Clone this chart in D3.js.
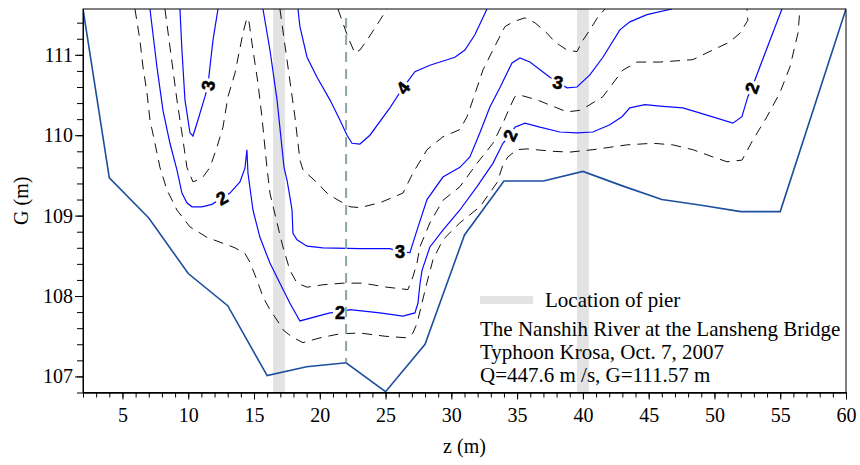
<!DOCTYPE html>
<html>
<head>
<meta charset="utf-8">
<script src="https://cdn.jsdelivr.net/npm/d3@7"></script>
<style>
  body { margin: 0; background: #fff; }
</style>
</head>
<body>
<div id="chart"></div>
<script>
// axis ranges and ticks
const zDomain = [2, 60];
const gDomain = [106.8, 111.57];
const zTicks = [5, 10, 15, 20, 25, 30, 35, 40, 45, 50, 55, 60];
const gTicks = [107, 108, 109, 110, 111];

// piers (z, m) and the sampling vertical
const piers = [16.9, 40.0];
const pierHalfWidth = 0.45;
const sectionZ = [22];

// river bed (z, G)
const bed = [[2, 111.57], [4, 109.47], [7, 108.97], [10, 108.28], [13, 107.88], [16, 107.01],
  [19, 107.12], [22, 107.17], [25, 106.81], [28, 107.40], [31, 108.76], [34, 109.43],
  [37, 109.43], [40, 109.55], [43, 109.37], [46, 109.20], [49, 109.13], [52, 109.05],
  [55, 109.05], [60, 111.57]];

// isovels (z, G)
const iso15 = [[5.95, 111.57], [6.33, 111.18], [6.56, 110.85], [6.86, 110.53], [7.09, 110.19],
  [7.47, 109.90], [7.85, 109.60], [8.38, 109.32], [9.14, 109.07], [10.13, 108.86], [11.42, 108.73],
  [12.41, 108.67], [13.55, 108.60], [14.31, 108.53], [14.69, 108.42], [15.22, 108.20], [15.68, 107.99],
  [16.21, 107.83], [16.75, 107.70], [17.20, 107.58], [17.89, 107.49], [18.72, 107.42], [20.01, 107.48],
  [21.53, 107.53], [23.05, 107.54], [24.95, 107.50], [26.62, 107.48], [27.08, 107.54], [27.39, 107.66],
  [27.69, 107.86], [28.15, 108.17], [28.60, 108.45], [29.36, 108.70], [30.65, 108.91], [32.17, 109.11],
  [33.47, 109.41], [33.92, 109.63], [34.30, 109.73], [34.99, 109.82], [35.75, 109.83], [37.72, 109.80],
  [39.01, 109.79], [40.76, 109.82], [42.05, 109.85], [43.35, 109.88], [45.32, 109.90], [46.84, 109.88],
  [48.36, 109.82], [49.88, 109.73], [50.95, 109.67], [52.09, 109.69], [52.92, 109.94], [53.99, 110.23],
  [54.98, 110.53], [55.74, 110.85], [56.35, 111.27], [56.50, 111.57]];

const iso20 = [[7.09, 111.57], [7.62, 110.85], [8.08, 110.31], [8.61, 109.90], [9.14, 109.57],
  [9.52, 109.28], [9.90, 109.16], [10.28, 109.11], [11.04, 109.11], [11.80, 109.14], [12.56, 109.22],
  [13.17, 109.28], [13.93, 109.42], [14.31, 109.59], [14.46, 109.82], [14.54, 109.53], [14.92, 109.07],
  [15.45, 108.73], [16.21, 108.41], [16.97, 108.16], [17.73, 107.91], [18.49, 107.69], [20.77, 107.79],
  [21.53, 107.80], [22.29, 107.83], [24.57, 107.79], [26.32, 107.75], [27.23, 107.79], [27.46, 107.91],
  [27.61, 108.14], [27.77, 108.32], [28.37, 108.61], [29.36, 108.82], [30.65, 109.07], [31.95, 109.36],
  [33.16, 109.65], [33.92, 109.90], [34.45, 110.00], [34.83, 110.10], [35.59, 110.15], [36.73, 110.10],
  [38.25, 110.04], [39.55, 110.03], [40.76, 110.04], [42.05, 110.13], [42.97, 110.23], [43.57, 110.34],
  [44.71, 110.38], [46.08, 110.36], [47.60, 110.34], [49.43, 110.25], [51.40, 110.15], [52.09, 110.23],
  [52.54, 110.48], [52.85, 110.59], [53.08, 110.69], [55.13, 111.57]];

const iso25 = [[8.23, 111.57], [9.14, 110.44], [9.60, 109.94], [9.90, 109.60], [10.36, 109.42],
  [10.66, 109.44], [11.12, 109.48], [11.65, 109.60], [12.18, 109.85], [12.64, 110.10], [13.02, 110.48],
  [13.55, 110.77], [14.16, 111.27], [14.46, 111.46], [14.62, 111.41], [14.92, 111.06], [15.30, 110.65],
  [15.60, 110.23], [15.98, 109.60], [16.21, 109.28], [16.75, 108.91], [17.20, 108.61], [17.73, 108.32],
  [18.27, 108.16], [19.03, 108.11], [20.24, 108.14], [21.76, 108.16], [23.28, 108.16], [25.11, 108.11],
  [26.70, 108.08], [27.08, 108.24], [27.39, 108.41], [27.61, 108.61], [28.37, 108.91], [29.36, 109.19],
  [30.65, 109.36], [31.95, 109.65], [33.16, 109.90], [33.92, 110.15], [34.45, 110.35], [34.83, 110.48],
  [35.21, 110.50], [36.51, 110.44], [38.03, 110.34], [38.79, 110.29], [39.77, 110.31], [40.53, 110.38],
  [41.52, 110.48], [42.21, 110.63], [43.04, 110.81], [44.11, 110.91], [45.85, 110.91], [48.36, 110.94],
  [49.88, 111.06], [51.17, 111.16], [51.94, 111.27], [52.54, 111.43], [52.47, 111.57]];

const iso30a = [[9.37, 111.57], [9.52, 111.06], [9.75, 110.44], [10.13, 110.03], [10.36, 109.99],
  [10.74, 110.19], [11.27, 110.48], [11.50, 110.62], [11.65, 110.85], [11.88, 111.18], [12.26, 111.57]];

const iso30b = [[15.68, 111.57], [16.21, 111.06], [16.75, 110.44], [17.28, 109.60], [17.51, 109.44],
  [17.73, 109.23], [17.89, 109.07], [17.96, 108.78], [18.27, 108.70], [19.03, 108.62], [20.24, 108.60],
  [23.05, 108.59], [25.33, 108.59], [26.09, 108.55], [26.85, 108.54], [27.39, 108.82], [28.15, 109.20],
  [29.36, 109.48], [30.65, 109.60], [31.41, 109.73], [32.17, 110.03], [32.93, 110.35], [33.69, 110.59],
  [34.61, 110.90], [35.21, 110.96], [35.97, 110.91], [37.49, 110.72], [38.10, 110.66], [38.79, 110.59],
  [39.55, 110.60], [40.53, 110.75], [41.52, 110.97], [42.81, 111.31], [43.57, 111.41], [44.87, 111.50],
  [46.77, 111.57]];

const iso35 = [[16.97, 111.57], [17.58, 110.85], [18.11, 110.23], [18.49, 109.69], [18.72, 109.57],
  [19.79, 109.41], [20.55, 109.28], [21.31, 109.20], [22.29, 109.11], [23.05, 109.10], [24.57, 109.16],
  [26.32, 109.28], [27.08, 109.53], [28.15, 109.82], [29.36, 109.98], [30.65, 110.07], [31.19, 110.23],
  [31.64, 110.44], [32.40, 110.81], [33.16, 111.06], [34.07, 111.35], [34.68, 111.41], [35.59, 111.46],
  [36.35, 111.40], [37.27, 111.27], [37.87, 111.16], [38.79, 111.06], [39.55, 111.04], [40.00, 111.18],
  [40.53, 111.31], [41.14, 111.47], [41.68, 111.57]];

const iso40 = [[18.34, 111.57], [18.49, 111.35], [19.03, 110.97], [19.79, 110.72], [20.77, 110.44],
  [21.53, 110.19], [22.07, 110.00], [22.45, 109.90], [23.05, 109.89], [23.81, 110.00], [25.33, 110.34],
  [26.32, 110.59], [27.23, 110.79], [28.37, 110.87], [30.27, 110.97], [31.03, 111.06], [31.79, 111.25],
  [32.71, 111.57]];

const iso45 = [[21.38, 111.57], [22.14, 111.22], [22.67, 111.02], [23.05, 111.06], [23.58, 111.18],
  [24.57, 111.43], [25.11, 111.57]];

const solidLines = [iso20, iso30a, iso30b, iso40];
const dashedLines = [iso15, iso25, iso35, iso45];

// contour labels: text, z, G, angle
const isoLabels = [["3", 11.50, 110.62, -80], ["2", 12.56, 109.22, -30], ["2", 21.53, 107.80, 0],
  ["3", 26.09, 108.55, 0], ["4", 26.32, 110.59, -52], ["2", 34.45, 110.00, -65],
  ["3", 38.10, 110.66, 12], ["2", 52.85, 110.59, -70]];

const legendLabel = "Location of pier";
const notes = ["The Nanshih River at the Lansheng Bridge", "Typhoon Krosa, Oct. 7, 2007",
  "Q=447.6 m /s, G=111.57 m"];

const width = 860, height = 465;
const margin = { top: 9, right: 14, bottom: 72.5, left: 83 };

const svg = d3.select("#chart").append("svg")
  .attr("width", width)
  .attr("height", height);

const x = d3.scaleLinear().domain(zDomain).range([margin.left, width - margin.right]);
const y = d3.scaleLinear().domain(gDomain).range([height - margin.bottom, margin.top]);

svg.append("defs").append("clipPath").attr("id", "plot-clip")
  .append("rect")
  .attr("x", x(zDomain[0])).attr("y", y(gDomain[1]))
  .attr("width", x(zDomain[1]) - x(zDomain[0]))
  .attr("height", y(gDomain[0]) - y(gDomain[1]));

const plot = svg.append("g").attr("clip-path", "url(#plot-clip)");

// pier bands
plot.selectAll("rect.pier").data(piers).enter().append("rect")
  .attr("class", "pier")
  .attr("x", d => x(d - pierHalfWidth))
  .attr("width", d => x(d + pierHalfWidth) - x(d - pierHalfWidth))
  .attr("y", y(gDomain[1]))
  .attr("height", y(gDomain[0]) - y(gDomain[1]))
  .attr("fill", "#e3e3e3");

const line = d3.line().x(d => x(d[0])).y(d => y(d[1]));

plot.selectAll("path.dashed").data(dashedLines).enter().append("path")
  .attr("d", line)
  .attr("fill", "none")
  .attr("stroke", "#111")
  .attr("stroke-width", 1)
  .attr("stroke-dasharray", "10,7");

plot.selectAll("path.solid").data(solidLines).enter().append("path")
  .attr("d", line)
  .attr("fill", "none")
  .attr("stroke", "#0a0aff")
  .attr("stroke-width", 1.2);

// bed
plot.append("path")
  .datum(bed)
  .attr("d", line)
  .attr("fill", "none")
  .attr("stroke", "#1c4e9e")
  .attr("stroke-width", 1.6);

// labels with a white knock-out behind them
isoLabels.forEach(([t, z, g, a]) => {
  const lg = plot.append("g").attr("transform", `translate(${x(z)},${y(g)}) rotate(${a})`);
  const txt = lg.append("text")
    .attr("text-anchor", "middle")
    .attr("dy", "0.36em")
    .attr("font-family", "Liberation Sans, Arial, sans-serif")
    .attr("font-weight", "bold")
    .attr("font-size", 18)
    .attr("fill", "#000")
    .attr("stroke", "#000")
    .attr("stroke-width", 0.6)
    .text(t);
  const bb = txt.node().getBBox();
  lg.insert("rect", "text")
    .attr("x", bb.x - 2).attr("y", bb.y + 1)
    .attr("width", bb.width + 4).attr("height", bb.height - 2)
    .attr("fill", "#fff");
});

// vertical sampling line at z = 22
sectionZ.forEach(z => {
  const gBed = bed.find(d => d[0] === z)[1];
  plot.append("line")
    .attr("x1", x(z)).attr("x2", x(z))
    .attr("y1", y(gDomain[1]) + 9).attr("y2", y(gBed))
    .attr("stroke", "#8aa6a6")
    .attr("stroke-width", 2)
    .attr("stroke-dasharray", "10,7");
});

// frame
svg.append("rect")
  .attr("x", x(zDomain[0])).attr("y", y(gDomain[1]))
  .attr("width", x(zDomain[1]) - x(zDomain[0]))
  .attr("height", y(gDomain[0]) - y(gDomain[1]))
  .attr("fill", "none")
  .attr("stroke", "#000")
  .attr("stroke-width", 1);

// axes
const styleAxis = g => {
  g.attr("font-family", "Liberation Serif, Times New Roman, serif").attr("font-size", 20);
  g.selectAll("line").attr("stroke", "#000");
  g.select(".domain").attr("stroke", "#000");
  g.selectAll("text").attr("fill", "#000");
};

svg.append("g")
  .attr("transform", `translate(0,${y(gDomain[0])})`)
  .call(d3.axisBottom(x).tickValues(d3.range(2, 61)).tickSize(5).tickSizeOuter(0).tickFormat(""))
  .call(styleAxis);
svg.append("g")
  .attr("transform", `translate(0,${y(gDomain[0])})`)
  .call(d3.axisBottom(x).tickValues(zTicks).tickSize(7).tickSizeOuter(0).tickPadding(8))
  .call(styleAxis);

svg.append("g")
  .attr("transform", `translate(${x(zDomain[0])},0)`)
  .call(d3.axisLeft(y).tickValues(d3.range(0, 24).map(i => 106.8 + i * 0.2)).tickSize(6).tickSizeOuter(0).tickFormat(""))
  .call(styleAxis);
svg.append("g")
  .attr("transform", `translate(${x(zDomain[0])},0)`)
  .call(d3.axisLeft(y).tickValues(gTicks).tickSize(8).tickSizeOuter(0).tickPadding(2).tickFormat(d3.format("d")))
  .call(styleAxis);

// axis titles
svg.append("text")
  .attr("x", (x(zDomain[0]) + x(zDomain[1])) / 2)
  .attr("y", 453)
  .attr("text-anchor", "middle")
  .attr("font-family", "Liberation Serif, Times New Roman, serif")
  .attr("font-size", 20)
  .text("z (m)");

svg.append("text")
  .attr("transform", `translate(28,${(y(gDomain[0]) + y(gDomain[1])) / 2}) rotate(-90)`)
  .attr("text-anchor", "middle")
  .attr("font-family", "Liberation Serif, Times New Roman, serif")
  .attr("font-size", 20)
  .text("G (m)");

// legend and notes
svg.append("rect")
  .attr("x", 480).attr("y", 296)
  .attr("width", 53).attr("height", 8)
  .attr("fill", "#e3e3e3");
svg.append("text")
  .attr("x", 545).attr("y", 307)
  .attr("font-family", "Liberation Serif, Times New Roman, serif")
  .attr("font-size", 21)
  .text(legendLabel);

svg.selectAll("text.note").data(notes).enter().append("text")
  .attr("class", "note")
  .attr("x", 480)
  .attr("y", (d, i) => 336 + i * 23)
  .attr("font-family", "Liberation Serif, Times New Roman, serif")
  .attr("font-size", 21)
  .text(d => d);
</script>
</body>
</html>
